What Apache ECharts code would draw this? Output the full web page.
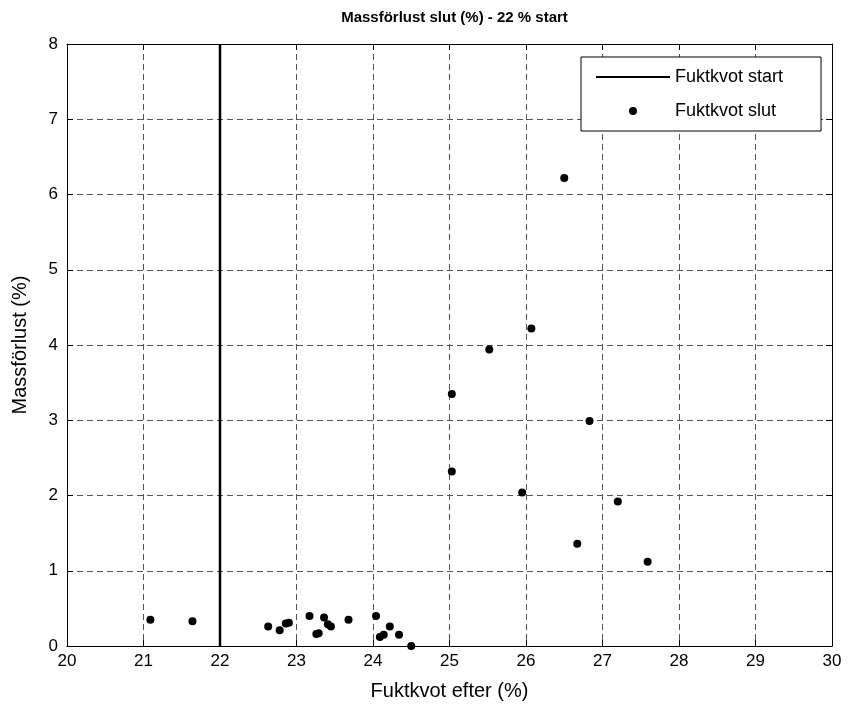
<!DOCTYPE html>
<html>
<head>
<meta charset="utf-8">
<script src="https://cdn.jsdelivr.net/npm/echarts@6/dist/echarts.min.js"></script>
<style>
html,body{margin:0;padding:0;background:#fff;}
#c{width:849px;height:713px;}
</style>
</head>
<body>
<div id="c"></div>
<script>
const titleText = 'Massförlust slut (%) - 22 % start';
const xName = 'Fuktkvot efter (%)';
const yName = 'Massförlust (%)';
const startName = 'Fuktkvot start';
const slutName = 'Fuktkvot slut';
const startX = 22;
const startLineY = [0, 8];
const slutX = [21.09, 21.64, 22.63, 22.78, 22.86, 22.90, 23.17, 23.26, 23.29, 23.36, 23.41, 23.45, 23.68, 24.04, 24.09, 24.14, 24.22, 24.34, 24.50, 25.03, 25.03, 25.52, 25.95, 26.07, 26.50, 26.67, 26.83, 27.20, 27.59];
const slutY = [0.35, 0.33, 0.26, 0.21, 0.30, 0.31, 0.40, 0.16, 0.17, 0.38, 0.29, 0.26, 0.35, 0.40, 0.12, 0.15, 0.26, 0.15, 0.00, 2.32, 3.35, 3.94, 2.04, 4.22, 6.22, 1.36, 2.99, 1.92, 1.12];
const xMin = 20, xMax = 30, xStep = 1;
const yMin = 0, yMax = 8, yStep = 1;

const font = 'Liberation Sans, Arial, Helvetica, sans-serif';
const chart = echarts.init(document.getElementById('c'), null, {renderer: 'canvas'});

const gridLine = {show: true, lineStyle: {color: '#555', width: 1, type: [6, 4]}};
const axisLine = {show: true, onZero: false, lineStyle: {color: '#000', width: 1}};
const tick = {show: true, inside: true, length: 6, lineStyle: {color: '#000'}};

chart.setOption({
  animation: false,
  backgroundColor: '#fff',
  title: {
    text: titleText, left: 449.5, textAlign: 'center', top: 5,
    textStyle: {fontFamily: font, fontSize: 15, fontWeight: 'bold', color: '#000'}
  },
  grid: {left: 67, right: 17, top: 44, bottom: 67, containLabel: false},
  legend: {
    left: 581, top: 57, orient: 'vertical',
    backgroundColor: '#fff', borderColor: '#000', borderWidth: 1,
    padding: [11, 38, 11, 14], itemGap: 16, itemWidth: 74, itemHeight: 8,
    textStyle: {fontFamily: font, fontSize: 18, color: '#000'},
    data: [
      {name: startName, itemStyle: {color: 'rgba(0,0,0,0)', borderWidth: 0}},
      {name: slutName, icon: 'circle'}
    ]
  },
  xAxis: [{
    type: 'value', min: xMin, max: xMax, interval: xStep, position: 'bottom',
    name: xName, nameLocation: 'middle', nameGap: 35,
    nameTextStyle: {fontFamily: font, fontSize: 20, color: '#000'},
    axisLine: axisLine, axisTick: tick, splitLine: gridLine,
    axisLabel: {fontFamily: font, fontSize: 17, color: '#000', margin: 7}
  }, {
    type: 'value', min: xMin, max: xMax, interval: xStep, position: 'top',
    axisLine: axisLine, axisTick: tick, splitLine: {show: false}, axisLabel: {show: false}
  }],
  yAxis: [{
    type: 'value', min: yMin, max: yMax, interval: yStep, position: 'left',
    name: yName, nameLocation: 'middle', nameGap: 37,
    nameTextStyle: {fontFamily: font, fontSize: 20, color: '#000'},
    axisLine: axisLine, axisTick: tick, splitLine: gridLine,
    axisLabel: {fontFamily: font, fontSize: 17, color: '#000', margin: 9}
  }, {
    type: 'value', min: yMin, max: yMax, interval: yStep, position: 'right',
    axisLine: axisLine, axisTick: tick, splitLine: {show: false}, axisLabel: {show: false}
  }],
  series: [{
    name: startName, type: 'line', symbol: 'none',
    data: startLineY.map(v => [startX, v]),
    lineStyle: {color: '#000', width: 2.5}, itemStyle: {color: '#000'}, z: 3
  }, {
    name: slutName, type: 'scatter', symbol: 'circle', symbolSize: 8,
    data: slutX.map((x, i) => [x, slutY[i]]),
    itemStyle: {color: '#000', opacity: 1}, z: 4
  }]
});
</script>
</body>
</html>
